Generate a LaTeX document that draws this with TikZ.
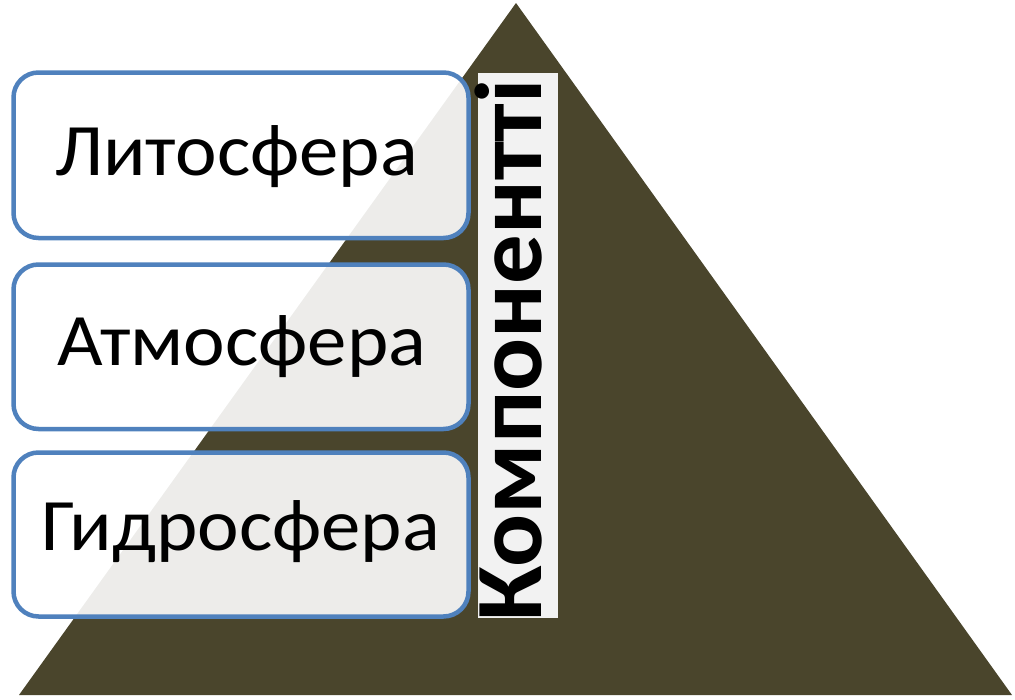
\documentclass[tikz,border=0pt]{standalone}
\usepackage{fontspec}
\setmainfont{Carlito}
\definecolor{pyr}{HTML}{4A452C}
\definecolor{boxblue}{HTML}{4F81BD}
\definecolor{lblbg}{HTML}{F2F2F2}
\newcommand{\widen}[2]{\scalebox{#1}[1]{#2}}
\begin{document}
\begin{tikzpicture}[x=1pt,y=-1pt,
  layer/.style={draw=boxblue,line width=4.5pt,fill=white,fill opacity=0.9,draw opacity=1,rounded corners=25pt},
  layertext/.style={font=\fontsize{74}{80}\selectfont,text=black,anchor=base,inner sep=0pt}]
\useasboundingbox (0,0) rectangle (1015,699);
\fill[pyr] (516,3) coordinate (apex) -- (1012,695) coordinate (br) -- (19,695) coordinate (bl) -- cycle;
\path[layer] (13.5,72.5) rectangle (468.5,238);
\path[layer] (13.5,264.5) rectangle (468.5,429);
\path[layer] (13.5,452.5) rectangle (468.5,616.5);
\node[layertext] (lit) at (236.5,175) {\widen{1.065}{Литосфера}};
\node[layertext] (atm) at (242,365) {\widen{1.065}{Атмосфера}};
\node[layertext] (gid) at (240.5,550) {\widen{1.065}{Гидросфера}};
\fill[lblbg] (478,73) rectangle (558,618);
\node[font=\bfseries\fontsize{95}{100}\selectfont,rotate=90,inner sep=0pt,anchor=base west] (komp) at (541,622) {\widen{1.04}{Компоненттi}};
\end{tikzpicture}
\end{document}
